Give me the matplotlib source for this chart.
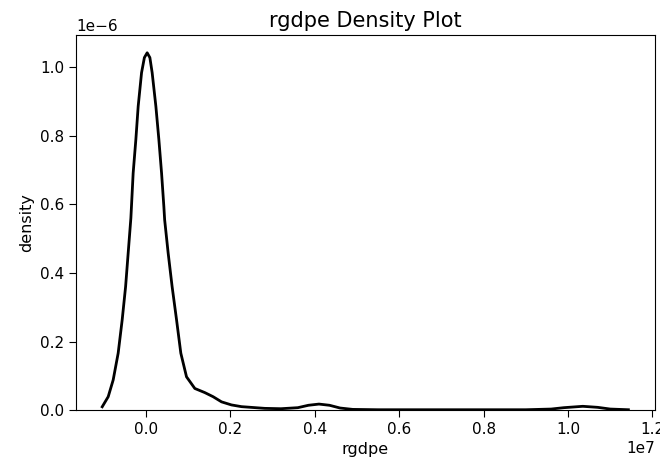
"""rgdpe density plot, redrawn from a kde curve read off the reference figure.

Values are rgdpe (x) and density (y), traced point by point.
"""
import numpy as np
import matplotlib
matplotlib.use("Agg")
import matplotlib.pyplot as plt

# curve: rgdpe value, kde density
RGDPE = [-1.034e6, -0.892e6, -0.774e6, -0.656e6, -0.561e6, -0.480e6, -0.419e6,
         -0.355e6, -0.301e6, -0.237e6, -0.182e6, -0.102e6, -0.035e6, 0.031e6,
         0.095e6, 0.149e6, 0.237e6, 0.308e6, 0.372e6, 0.426e6, 0.445e6, 0.528e6,
         0.622e6, 0.727e6, 0.828e6, 0.963e6, 1.160e6, 1.396e6, 1.593e6, 1.792e6,
         2.028e6, 2.265e6, 2.817e6, 3.2e6, 3.6e6, 3.85e6, 4.1e6, 4.35e6, 4.6e6,
         4.9e6, 5.5e6, 7.0e6, 9.0e6, 9.6e6, 9.9e6, 10.35e6, 10.7e6, 11.0e6, 11.43e6]
DENSITY = [0.0096e-6, 0.039e-6, 0.088e-6, 0.166e-6, 0.263e-6, 0.360e-6, 0.458e-6,
           0.560e-6, 0.691e-6, 0.789e-6, 0.886e-6, 0.984e-6, 1.028e-6, 1.042e-6,
           1.028e-6, 0.984e-6, 0.886e-6, 0.789e-6, 0.691e-6, 0.594e-6, 0.555e-6, 0.458e-6,
           0.360e-6, 0.263e-6, 0.166e-6, 0.097e-6, 0.063e-6, 0.051e-6, 0.039e-6, 0.024e-6,
           0.015e-6, 0.010e-6, 0.005e-6, 0.004e-6, 0.007e-6, 0.014e-6, 0.0175e-6, 0.014e-6, 0.006e-6,
           0.002e-6, 0.001e-6, 0.001e-6, 0.001e-6, 0.003e-6, 0.007e-6, 0.011e-6, 0.008e-6, 0.003e-6, 0.001e-6]


def main():
    fig, ax = plt.subplots(figsize=(6.6, 4.66), dpi=100)
    line, = ax.plot(RGDPE, DENSITY, color="black", lw=2.0)
    line.sticky_edges.y[:] = [0, np.inf]  # density axis starts at 0, like seaborn
    ax.set_title("rgdpe Density Plot", fontsize=15)
    ax.set_xlabel("rgdpe", fontsize=11.5)
    ax.set_ylabel("density", fontsize=11.5)
    ax.tick_params(labelsize=11, length=5)
    ax.xaxis.get_offset_text().set_fontsize(11)
    ax.yaxis.get_offset_text().set_fontsize(11)
    fig.subplots_adjust(left=0.115, right=0.992, bottom=0.12, top=0.925)
    fig.savefig("out.png", dpi=100)
    plt.close(fig)


if __name__ == "__main__":
    main()
